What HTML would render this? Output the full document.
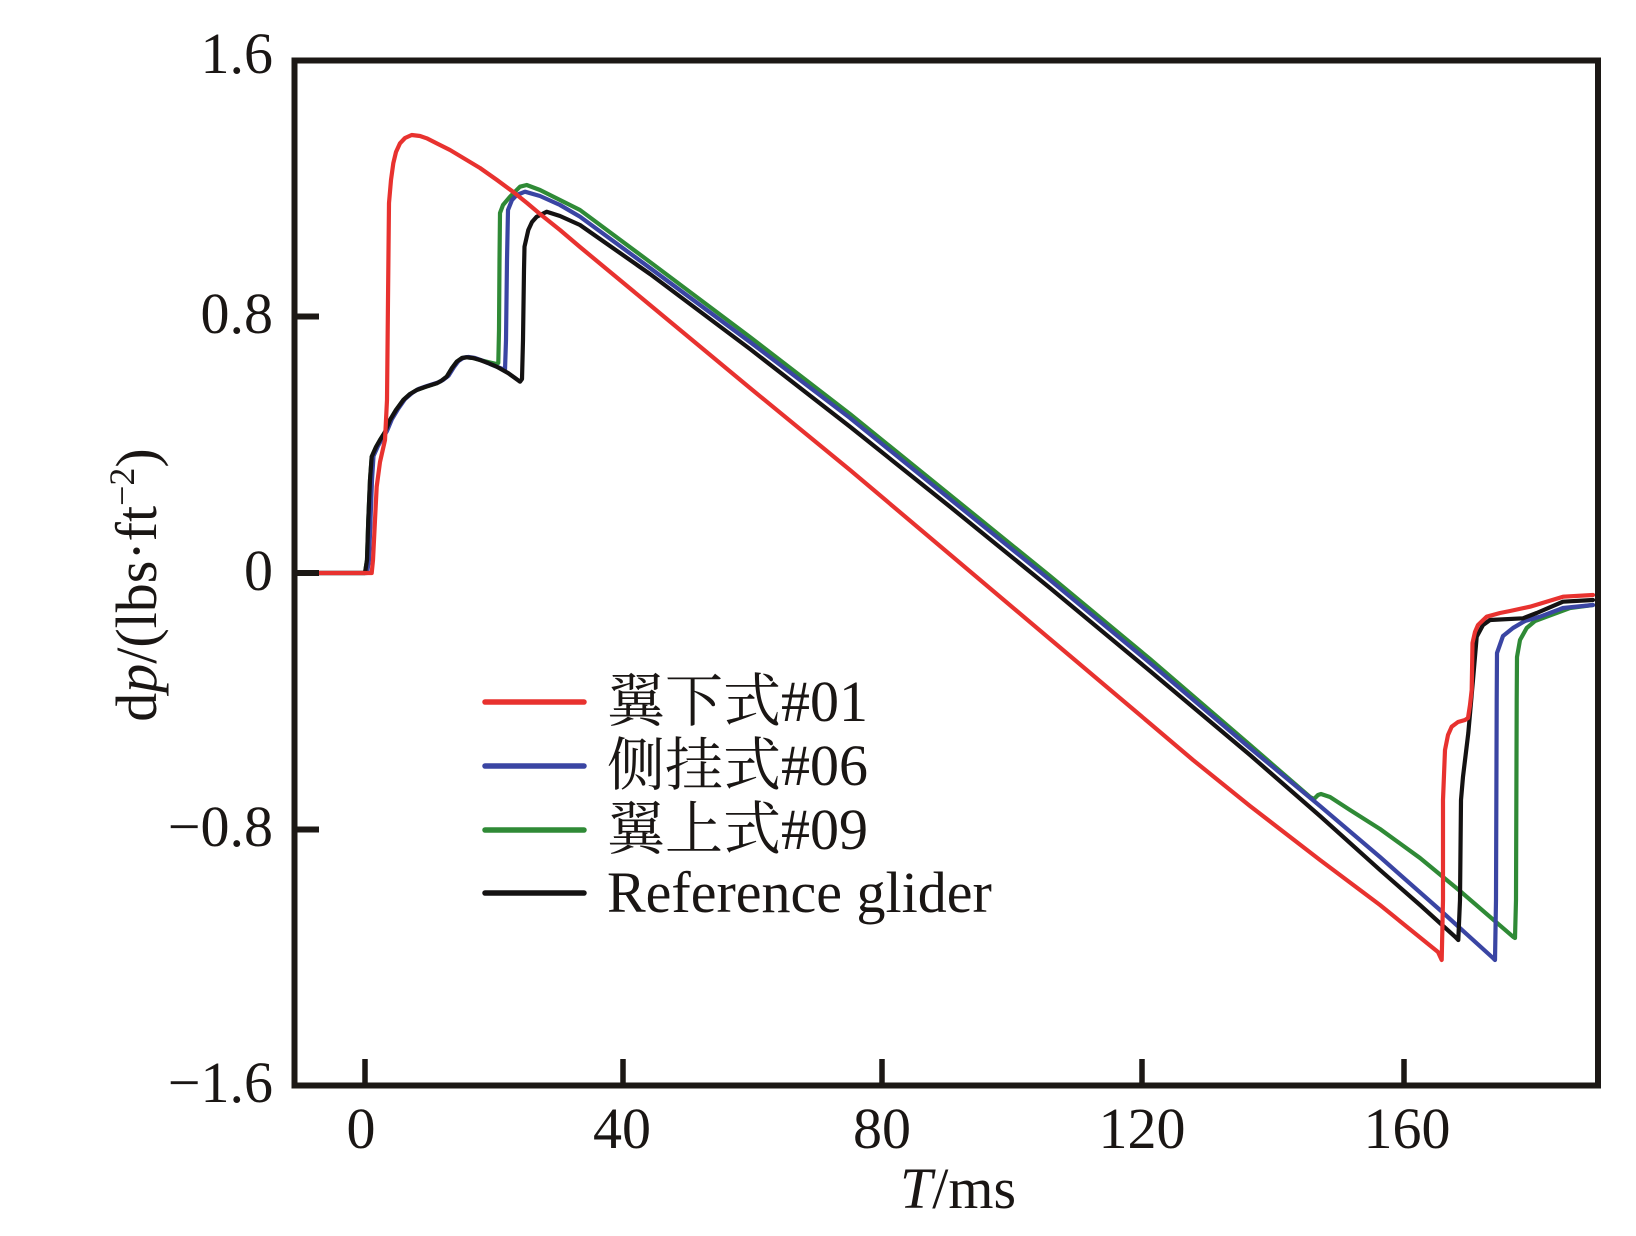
<!DOCTYPE html>
<html>
<head>
<meta charset="utf-8">
<style>
  html, body { margin: 0; padding: 0; background: #ffffff; }
  svg { display: block; }
  text { font-family: "Liberation Serif", "Noto Serif CJK SC", serif; fill: #1a1614; }
</style>
</head>
<body>
<svg width="1636" height="1236" viewBox="0 0 1636 1236" xmlns="http://www.w3.org/2000/svg">
  <rect x="0" y="0" width="1636" height="1236" fill="#ffffff"/>

  <!-- curves -->
  <g fill="none" stroke-width="4.2" stroke-linejoin="round" stroke-linecap="round">
    <!-- green: 翼上式#09 -->
    <polyline stroke="#2f8a36" points="297,573 365,573 367,560 368.3,520 370,480 371.7,456.7 376,447 380,440 385,432 390,420 396,410 403.3,400 410,394 416.7,390 425,387 436.7,383.3 441,381 446.7,376.7 452,368 456.7,361.7 462,358 466.7,357.3 473,358 480,360 488,362 496.7,364 498.3,363 499,330 499.5,260 500,213 503,205 510,196.7 520,186.7 526.7,185 540,190 560,200 580,210 650,262 750,337 850,414 950,495 1050,576 1150,659 1250,745 1310,797 1314,799 1318,795 1321,794 1330,797 1350,810 1380,829 1420,858 1460,891 1513,936.7 1515,938 1516,900 1516.7,700 1517,657 1520,640 1526.7,628 1535,621 1546.7,616.7 1570,608 1593,605"/>
    <!-- blue: 侧挂式#06 -->
    <polyline stroke="#3a45a3" points="297,573 367,573 369,560 370.5,520 372,480 373.5,456 378,446 382,439 387,431 392,419 398,409 405,399 412,393 418.5,389 427,386 438,382.5 443,380 448.5,375.7 454,367 458.5,361 464,357.5 468.5,357 475,358 482,360.5 490,364 500,368 505,370 506,340 507,260 508,210 512,200 516.7,195 525,191.7 540,196 560,205 580,216.7 650,268 750,342 850,418 950,499 1050,580 1150,663 1250,748 1320,806 1380,857 1440,910 1493,958 1495,960 1496,900 1496.7,700 1497,653 1503,636 1513,628 1525,621 1540,616.7 1563,608 1593,605"/>
    <!-- black: Reference glider -->
    <polyline stroke="#141212" points="297,573 365,573 367,560 368.3,520 370,480 371.7,456.7 376,447 380,440 385,432 390,420 396,410 403.3,400 410,394 416.7,390 425,387 436.7,383.3 441,381 446.7,376.7 452,368 456.7,361.7 462,358 466.7,357.3 473,358 480,360 488,363 496.7,366.7 508,373 515,378 520,381.7 522,379 523,340 524,270 524.5,246.7 528.3,230 532,222 536.7,216.7 546.7,211.7 560,216 580,225 650,274 750,349 850,426.7 950,506.7 1050,588 1150,671 1250,755 1320,816 1380,870 1420,905 1455,936.7 1458.3,940 1460,900 1461,800 1463,776.7 1468.3,733 1473,680 1476.7,636.7 1483,625 1490,620 1523,618.3 1536.7,613 1563,601.7 1593,600"/>
    <!-- red: 翼下式#01 -->
    <polyline stroke="#e8322f" points="297,573 371.7,573 373,560 375,520 376.7,486.7 380,462 385,440 387,400 388,300 389,203 391,180 393.3,163.3 396,152 400,143.3 405,138 411.7,135 420,136 426.7,138.3 438,144 450,150 465,159 480,168 497,180 513.3,192 527,203 540,214 560,230 580,247 650,305 750,388 850,470 950,554.5 1050,639 1150,723.5 1193,760 1250,806 1320,860 1380,905 1438,952 1441.7,960 1443,900 1443,800 1445,750 1448,735 1451.7,726.7 1458,722 1465,720 1468,718 1470,705 1471.7,690 1472.5,643 1475,632 1478,625 1486.7,616.7 1500,613 1510,611 1530,606.7 1563,596.7 1593,595"/>
  </g>

  <!-- frame -->
  <rect x="294.5" y="60.5" width="1303.5" height="1025" fill="none" stroke="#1c1815" stroke-width="6"/>

  <!-- x ticks -->
  <g stroke="#1c1815" stroke-width="5.5">
    <line x1="365" y1="1083" x2="365" y2="1059"/>
    <line x1="623" y1="1083" x2="623" y2="1059"/>
    <line x1="882" y1="1083" x2="882" y2="1059"/>
    <line x1="1142" y1="1083" x2="1142" y2="1059"/>
    <line x1="1404" y1="1083" x2="1404" y2="1059"/>
  </g>
  <!-- y ticks -->
  <g stroke="#1c1815" stroke-width="6">
    <line x1="297" y1="316.5" x2="319" y2="316.5"/>
    <line x1="297" y1="573" x2="319" y2="573"/>
    <line x1="297" y1="829.5" x2="319" y2="829.5"/>
  </g>

  <!-- y tick labels -->
  <g font-size="58" text-anchor="end">
    <text x="273" y="73">1.6</text>
    <text x="273" y="333">0.8</text>
    <text x="273" y="590">0</text>
    <text x="273" y="846">−0.8</text>
    <text x="273" y="1102">−1.6</text>
  </g>

  <!-- x tick labels -->
  <g font-size="58" text-anchor="middle">
    <text x="361" y="1148">0</text>
    <text x="622" y="1148">40</text>
    <text x="882" y="1148">80</text>
    <text x="1142" y="1148">120</text>
    <text x="1407" y="1148">160</text>
  </g>

  <!-- x axis title -->
  <text x="958" y="1208" font-size="58" text-anchor="middle"><tspan font-style="italic">T</tspan>/ms</text>

  <!-- y axis title -->
  <text transform="translate(156,585) rotate(-90)" font-size="58" text-anchor="middle">d<tspan font-style="italic">p</tspan>/(lbs·ft<tspan font-size="36" dy="-22">−2</tspan><tspan dy="22">)</tspan></text>

  <!-- legend -->
  <g stroke-width="5.5" stroke-linecap="round">
    <line x1="485" y1="702" x2="584" y2="702" stroke="#e8322f"/>
    <line x1="485" y1="766" x2="584" y2="766" stroke="#3a45a3"/>
    <line x1="485" y1="830" x2="584" y2="830" stroke="#2f8a36"/>
    <line x1="485" y1="893" x2="584" y2="893" stroke="#141212"/>
  </g>
  <g font-size="58">
    <text x="607" y="721">翼下式#01</text>
    <text x="607" y="785">侧挂式#06</text>
    <text x="607" y="849">翼上式#09</text>
    <text x="607" y="912">Reference glider</text>
  </g>
</svg>
</body>
</html>
